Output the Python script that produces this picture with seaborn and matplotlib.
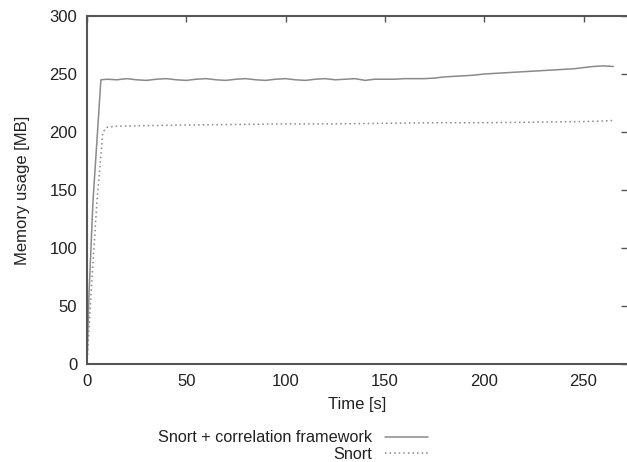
import matplotlib
matplotlib.use("Agg")
import matplotlib.pyplot as plt
import numpy as np
import pandas as pd
import seaborn as sns

# values
time_combined = [0, 1, 3, 7, 10, 15, 20, 25, 30, 35, 40, 45, 50, 55, 60, 65, 70,
                 75, 80, 85, 90, 95, 100, 105, 110, 115, 120, 125, 130, 135, 140,
                 145, 150, 155, 160, 165, 170, 175, 180, 185, 190, 195, 200, 205,
                 210, 215, 220, 225, 230, 235, 240, 245, 250, 255, 260, 265]
mem_combined = [0, 60, 140, 245, 245.5, 245, 246, 245, 244.5, 245.5, 246, 245,
                244.5, 245.5, 246, 245, 244.5, 245.5, 246, 245, 244.5, 245.5,
                246, 245, 244.5, 245.5, 246, 245, 245.5, 246, 244.5, 245.5,
                245.5, 245.5, 246, 246, 246, 246.5, 247.5, 248, 248.5, 249,
                250, 250.5, 251, 251.5, 252, 252.5, 253, 253.5, 254, 254.5,
                255.5, 256.5, 257, 256.5]

time_snort = [0, 2, 5, 8, 10, 15, 30, 50, 75, 100, 125, 150, 175, 200, 225,
              250, 260, 265]
mem_snort = [0, 60, 140, 200, 204, 205, 205.5, 206, 206.5, 207, 207, 207.5,
             208, 208, 208.5, 209, 209.5, 210]

labels = ["Snort + correlation framework", "Snort"]
x_ticks = [0, 50, 100, 150, 200, 250]
y_ticks = [0, 50, 100, 150, 200, 250, 300]

df = pd.concat([
    pd.DataFrame({"time": time_combined, "mem": mem_combined, "series": labels[0]}),
    pd.DataFrame({"time": time_snort, "mem": mem_snort, "series": labels[1]}),
])

sns.set_style("white")
plt.rcParams["font.family"] = ["Liberation Sans", "DejaVu Sans"]

fig = plt.figure(figsize=(6.27, 4.62), dpi=100)
ax = fig.add_axes([87 / 627, 1 - 364 / 462, 1 - 87 / 627, (364 - 16) / 462])

sns.lineplot(data=df, x="time", y="mem", hue="series", style="series",
             palette={labels[0]: "#8a8a8a", labels[1]: "#8a8a8a"},
             dashes={labels[0]: "", labels[1]: (1, 2)},
             linewidth=1.1, legend=False, ax=ax, sort=False)

ax.set_xlim(0, (627 - 87) / 1.986)
ax.set_ylim(0, 300)
ax.set_xticks(x_ticks)
ax.set_yticks(y_ticks)
ax.tick_params(axis="both", direction="in", length=4, width=1, color="#555555",
               labelsize=12, labelcolor="#222222", top=True, right=True, pad=7)
for side in ["left", "bottom", "top"]:
    ax.spines[side].set_color("#555555")
    ax.spines[side].set_linewidth(1.5)
ax.spines["right"].set_visible(False)

ax.set_xlabel("Time [s]", fontsize=12, color="#222222", labelpad=6)
ax.set_ylabel("Memory usage [MB]", fontsize=12, color="#222222", labelpad=14)

handles = [
    plt.Line2D([], [], color="#8a8a8a", lw=1.1),
    plt.Line2D([], [], color="#8a8a8a", lw=1.1, ls=(0, (1, 2))),
]
fig.legend(handles, labels, loc="center", bbox_to_anchor=(293 / 627, 1 - 446 / 462),
           frameon=False, markerfirst=False, fontsize=11.7, handlelength=2.6,
           labelspacing=0.1, handletextpad=0.8, labelcolor="#222222")

fig.savefig("out.png", dpi=100)
